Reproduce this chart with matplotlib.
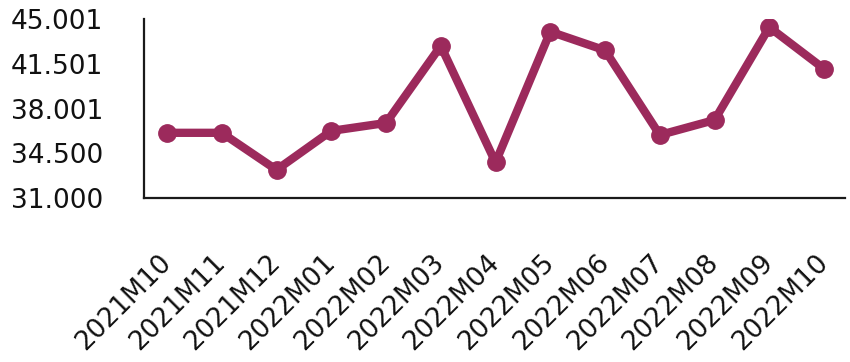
import matplotlib

matplotlib.use("Agg")
import matplotlib.pyplot as plt
from matplotlib.ticker import FuncFormatter
import numpy as np

# Monthly series, Oct 2021 - Oct 2022
periods = [
    "2021M10", "2021M11", "2021M12", "2022M01", "2022M02", "2022M03", "2022M04",
    "2022M05", "2022M06", "2022M07", "2022M08", "2022M09", "2022M10",
]
values = [
    36100, 36100, 33200, 36250, 36870, 42900, 33780,
    44010, 42550, 35930, 37100, 44360, 41100,
]
y_min, y_max = 31000, 45001

LINE_COLOR = "#9c2a5c"


def dotted_thousands(v, _pos):
    # 38000.5 -> "38.001": round half up, dot as thousands separator
    return f"{int(np.floor(v + 0.5)):,}".replace(",", ".")


fig = plt.figure(figsize=(8.5, 3.62), dpi=100)
ax = fig.add_axes([0.1694, 0.453, 0.8246, 0.4945])

x = np.arange(len(periods))
ax.plot(x, values, color=LINE_COLOR, lw=6, marker="o", ms=12.5,
        solid_joinstyle="round", solid_capstyle="round")

ax.set_xlim(-0.42, len(periods) - 1 + 0.38)
ax.set_ylim(y_min, y_max)
ax.set_yticks(np.linspace(y_min, y_max, 5))
ax.yaxis.set_major_formatter(FuncFormatter(dotted_thousands))

ax.set_xticks(x)
ax.set_xticklabels(periods, rotation=45, ha="right", va="center",
                   rotation_mode="anchor", fontsize=19)

ax.tick_params(axis="both", length=0, labelcolor="#111111")
ax.tick_params(axis="y", pad=96, labelsize=19)
ax.tick_params(axis="x", pad=44)
for lbl in ax.get_yticklabels():
    lbl.set_horizontalalignment("left")

for side in ("top", "right"):
    ax.spines[side].set_visible(False)
for side in ("left", "bottom"):
    ax.spines[side].set_linewidth(1.6)
    ax.spines[side].set_color("#1a1a1a")

fig.savefig("out.png", dpi=100)
plt.close(fig)
